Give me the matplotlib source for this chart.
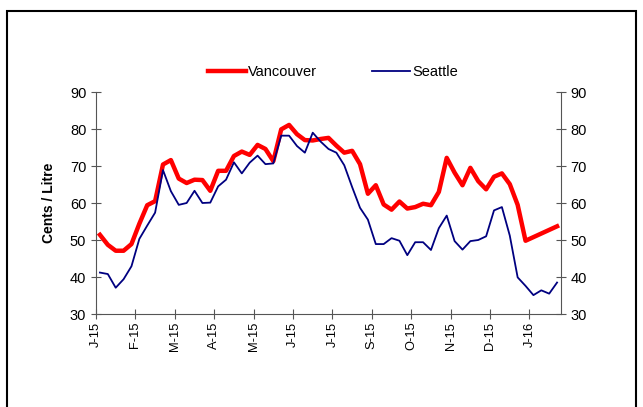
import numpy as np
import matplotlib
matplotlib.use("Agg")
import matplotlib.pyplot as plt
from matplotlib.patches import Rectangle

plt.rcParams["font.family"] = ["Liberation Sans", "DejaVu Sans"]

# weekly prices, cents / litre
vancouver = [51.4, 48.7, 47.1, 47.1, 48.9, 54.4, 59.4, 60.5, 70.4, 71.6,
             66.6, 65.4, 66.3, 66.2, 63.3, 68.7, 68.7, 72.7, 73.9, 73.0,
             75.7, 74.6, 71.3, 79.9, 81.1, 78.6, 77.0, 76.9, 77.3, 77.6,
             75.5, 73.6, 74.1, 70.5, 62.5, 64.8, 59.6, 58.2, 60.4, 58.5,
             58.9, 59.8, 59.4, 63.0, 72.2, 68.2, 64.8, 69.5, 65.9, 63.7,
             67.1, 68.0, 65.1, 59.5, 49.8, np.nan, np.nan, np.nan, 53.7]
seattle = [41.2, 40.8, 37.1, 39.4, 42.9, 50.3, 53.9, 57.4, 68.9, 63.2,
           59.5, 60.0, 63.3, 60.0, 60.1, 64.5, 66.3, 71.0, 68.0, 70.9,
           72.8, 70.5, 70.7, 78.2, 78.2, 75.4, 73.6, 79.0, 76.6, 74.6,
           73.6, 70.2, 64.3, 58.7, 55.5, 48.9, 48.9, 50.5, 49.8, 45.9,
           49.4, 49.4, 47.3, 53.2, 56.6, 49.7, 47.4, 49.7, 50.0, 51.0,
           58.0, 58.9, 51.2, 39.9, 37.6, 35.1, 36.4, 35.5, 38.5]
month_labels = ["J-15", "F-15", "M-15", "A-15", "M-15", "J-15", "J-15",
                "S-15", "O-15", "N-15", "D-15", "J-16"]

van = np.array(vancouver)
sea = np.array(seattle)
x = np.arange(len(van)) + 0.5
ok = ~np.isnan(van)

fig = plt.figure(figsize=(6.43, 4.07), dpi=100)
fig.patches.append(Rectangle((7 / 643, -0.05), 629 / 643, 1.05 - 11 / 407,
                             transform=fig.transFigure, fill=False,
                             edgecolor="black", linewidth=1.5))

ax = fig.add_axes([96 / 643, 1 - 314 / 407, 465 / 643, 222 / 407])
ax.plot(x[ok], van[ok], color="#ff0000", linewidth=3.2, label="Vancouver")
ax.plot(x, sea, color="#000080", linewidth=1.3, label="Seattle")

ax.set_xlim(0, len(van))
ax.set_ylim(30, 90)
ax.set_yticks(range(30, 91, 10))
ax.set_xticks(np.arange(len(month_labels)) * 5)
ax.set_xticklabels(month_labels, rotation=90)

ax.spines["top"].set_visible(False)
for s in ["left", "bottom", "right"]:
    ax.spines[s].set_color("#555555")
ax.tick_params(axis="both", direction="inout", length=7, color="#555555",
               labelsize=10.5, width=0.8)
ax.tick_params(axis="y", right=True, labelright=True)
ax.tick_params(axis="x", pad=2, labelsize=9.3)
ax.set_ylabel("Cents / Litre", fontweight="bold", fontsize=10, labelpad=10)

fig.legend(loc="center", bbox_to_anchor=(333 / 643, 1 - 72 / 407), ncol=2,
           frameon=False, fontsize=10.5, handlelength=2.6, handletextpad=0.15,
           columnspacing=3.8)

fig.savefig("out.png", dpi=100)
